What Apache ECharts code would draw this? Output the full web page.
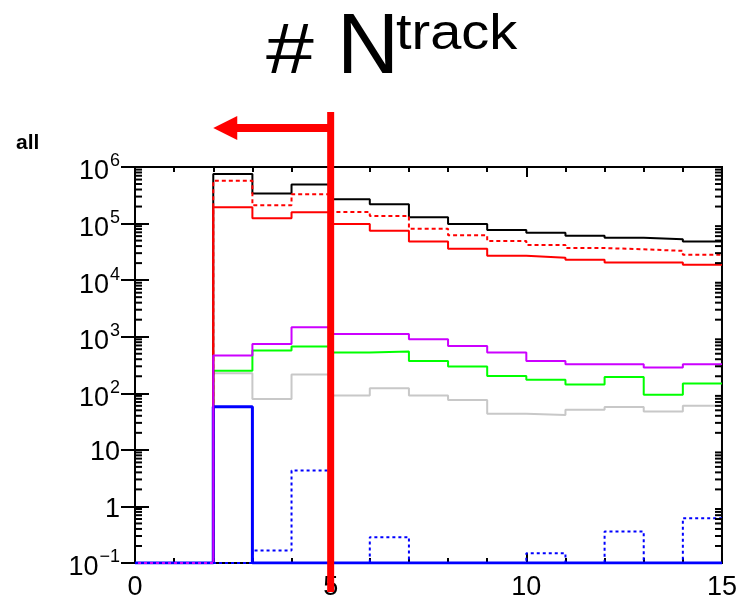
<!DOCTYPE html>
<html>
<head>
<meta charset="utf-8">
<script src="https://cdn.jsdelivr.net/npm/echarts@6/dist/echarts.min.js"></script>
<style>
  html, body { margin: 0; padding: 0; background: #fff; }
  #chart { width: 740px; height: 603px; }
</style>
</head>
<body>
<div id="chart"></div>
<script>
// bin edges of the # Ntrack histogram
var edges = [0, 1, 2, 3, 4, 5, 6, 7, 8, 9, 10, 11, 12, 13, 14, 15];
// bin contents (0 = empty bin)
var hBlack   = [0, 0, 7.5e5, 3.4e5, 4.9e5, 2.7e5, 2.2e5, 1.3e5, 9.8e4, 7.7e4, 6.9e4, 6.1e4, 5.6e4, 5.3e4, 4.8e4];
var hRedDot  = [0, 0, 5.7e5, 2.1e5, 3.3e5, 1.6e5, 1.36e5, 8.1e4, 6.2e4, 4.9e4, 4.2e4, 3.7e4, 3.5e4, 3.3e4, 2.8e4];
var hRed     = [0, 0, 1.94e5, 1.24e5, 1.59e5, 9.8e4, 7.5e4, 4.8e4, 3.6e4, 2.7e4, 2.5e4, 2.3e4, 2.05e4, 2.05e4, 1.87e4];
var hMagenta = [0, 0, 464, 746, 1470, 1120, 1120, 900, 687, 525, 373, 326, 326, 285, 326];
var hGreen   = [0, 0, 249, 569, 669, 525, 546, 373, 297, 203, 173, 143, 195, 94, 149];
var hGray    = [0, 0, 226, 79, 214, 91, 123, 91, 76, 43.6, 41.5, 51, 57, 47.5, 60];
var hBlue    = [0, 0, 58, 0, 0, 0, 0, 0, 0, 0, 0, 0, 0, 0, 0];
var hBlueDot = [0, 0, 0, 0.166, 4.3, 0, 0.286, 0, 0, 0, 0.149, 0, 0.36, 0, 0.62];
// cut value and the kept side
var cutX = 5;
var cutArrowTo = 2;

var yMin = 0.1, yMax = 1e6;
var FONT = '"Liberation Sans", Arial, sans-serif';

// histogram outline as step points; empty bins sit on the axis floor
function steps(vals) {
  var pts = [];
  for (var i = 0; i < vals.length; i++) {
    pts.push([edges[i], Math.max(vals[i], yMin)]);
  }
  pts.push([edges[edges.length - 1], Math.max(vals[vals.length - 1], yMin)]);
  return pts;
}

function hist(vals, color, width, type) {
  return {
    type: 'line', step: 'end', symbol: 'none', clip: true,
    data: steps(vals),
    lineStyle: { color: color, width: width, type: type || 'solid' }
  };
}

function yLabel(v) {
  var e = Math.round(Math.log(v) / Math.LN10);
  if (e === 0) return '{p|1}';
  if (e === 1) return '{p|10}';
  return '{b|10}{s|' + (e < 0 ? '\u2212' + (-e) : e) + '}';
}

var myChart = echarts.init(document.getElementById('chart'));
var tickStyle = { color: '#000', width: 2 };
var option = {
  animation: false,
  backgroundColor: '#fff',
  grid: { left: 135, right: 15, top: 167, bottom: 40, show: true, borderColor: '#000', borderWidth: 2, backgroundColor: 'transparent' },
  xAxis: [{
    type: 'value', min: 0, max: 15, interval: 5,
    axisLine: { lineStyle: tickStyle },
    axisTick: { inside: true, length: 10, lineStyle: tickStyle },
    minorTick: { show: true, splitNumber: 5, length: 5, lineStyle: tickStyle },
    axisLabel: { color: '#000', fontSize: 27, fontFamily: FONT, margin: 11 },
    splitLine: { show: false }
  }, {
    type: 'value', min: 0, max: 15, interval: 5, position: 'top',
    axisLine: { lineStyle: tickStyle },
    axisTick: { inside: true, length: 10, lineStyle: tickStyle },
    minorTick: { show: true, splitNumber: 5, length: 5, lineStyle: tickStyle },
    axisLabel: { show: false },
    splitLine: { show: false }
  }],
  yAxis: [{
    type: 'log', logBase: 10, min: yMin, max: yMax,
    axisLine: { lineStyle: tickStyle },
    axisTick: { inside: true, length: 14, lineStyle: tickStyle },
    axisLabel: {
      color: '#000', fontFamily: FONT, margin: 15, formatter: yLabel,
      fontSize: 27,
      rich: {
        p: { fontSize: 27, fontFamily: FONT, color: '#000', padding: [6, 0, 0, 0] },
        b: { fontSize: 27, fontFamily: FONT, color: '#000', padding: [10, 0, 0, 0] },
        s: { fontSize: 18, fontFamily: FONT, color: '#000', verticalAlign: 'top', padding: [4, 0, 0, 1] }
      }
    },
    splitLine: { show: false }
  }, {
    type: 'log', logBase: 10, min: yMin, max: yMax, position: 'right',
    axisLine: { lineStyle: tickStyle },
    axisTick: { inside: true, length: 14, lineStyle: tickStyle },
    axisLabel: { show: false },
    splitLine: { show: false }
  }],
  series: [
    hist(hGray, '#c8c8c8', 2),
    hist(hGreen, '#00ff00', 2),
    hist(hBlack, '#000000', 2),
    hist(hRed, '#ff0000', 2),
    hist(hRedDot, '#ff0000', 2, [4, 3]),
    hist(hBlue, '#0000ff', 3),
    hist(hMagenta, '#cc00ff', 2),
    hist(hBlueDot, '#0000ff', 2, [3, 3])
  ]
};
myChart.setOption(option);

// minor log ticks (2..9 per decade) on left and right, plus title and the cut arrow
var gl = myChart.convertToPixel({ xAxisIndex: 0 }, 0);
var gr = myChart.convertToPixel({ xAxisIndex: 0 }, 15);
var graphics = [];
for (var d = -1; d < 6; d++) {
  for (var m = 2; m < 10; m++) {
    var py = myChart.convertToPixel({ yAxisIndex: 0 }, m * Math.pow(10, d));
    graphics.push({ type: 'line', shape: { x1: gl, y1: py, x2: gl + 7, y2: py }, style: { stroke: '#000', lineWidth: 2 }, z: 50 });
    graphics.push({ type: 'line', shape: { x1: gr - 7, y1: py, x2: gr, y2: py }, style: { stroke: '#000', lineWidth: 2 }, z: 50 });
  }
}
var xc = myChart.convertToPixel({ xAxisIndex: 0 }, cutX);
var xa = myChart.convertToPixel({ xAxisIndex: 0 }, cutArrowTo);
graphics.push({ type: 'line', shape: { x1: xc, y1: 112, x2: xc, y2: 592 }, style: { stroke: '#ff0000', lineWidth: 7 }, z: 100 });
graphics.push({ type: 'line', shape: { x1: xa + 20, y1: 128, x2: xc, y2: 128 }, style: { stroke: '#ff0000', lineWidth: 8 }, z: 100 });
graphics.push({ type: 'polygon', shape: { points: [[xa, 128], [xa + 24, 116], [xa + 24, 140]] }, style: { fill: '#ff0000' }, z: 100 });
// title "# N^track"
graphics.push({ type: 'text', x: 266, y: 54, scaleY: 0.82, z: 100,
  style: { text: '#', fill: '#000', font: '86px ' + FONT, textAlign: 'left', textVerticalAlign: 'middle' } });
graphics.push({ type: 'text', x: 337, y: 49, z: 100,
  style: { text: 'N', fill: '#000', font: '86px ' + FONT, textAlign: 'left', textVerticalAlign: 'middle' } });
graphics.push({ type: 'text', x: 396, y: 35, scaleY: 0.88, z: 100,
  style: { text: 'track', fill: '#000', font: '56px ' + FONT, textAlign: 'left', textVerticalAlign: 'middle' } });
graphics.push({ type: 'text', x: 16, y: 143, z: 100,
  style: { text: 'all', fill: '#000', font: 'bold 21px ' + FONT, textAlign: 'left', textVerticalAlign: 'middle' } });
myChart.setOption({ graphic: graphics });
</script>
</body>
</html>
